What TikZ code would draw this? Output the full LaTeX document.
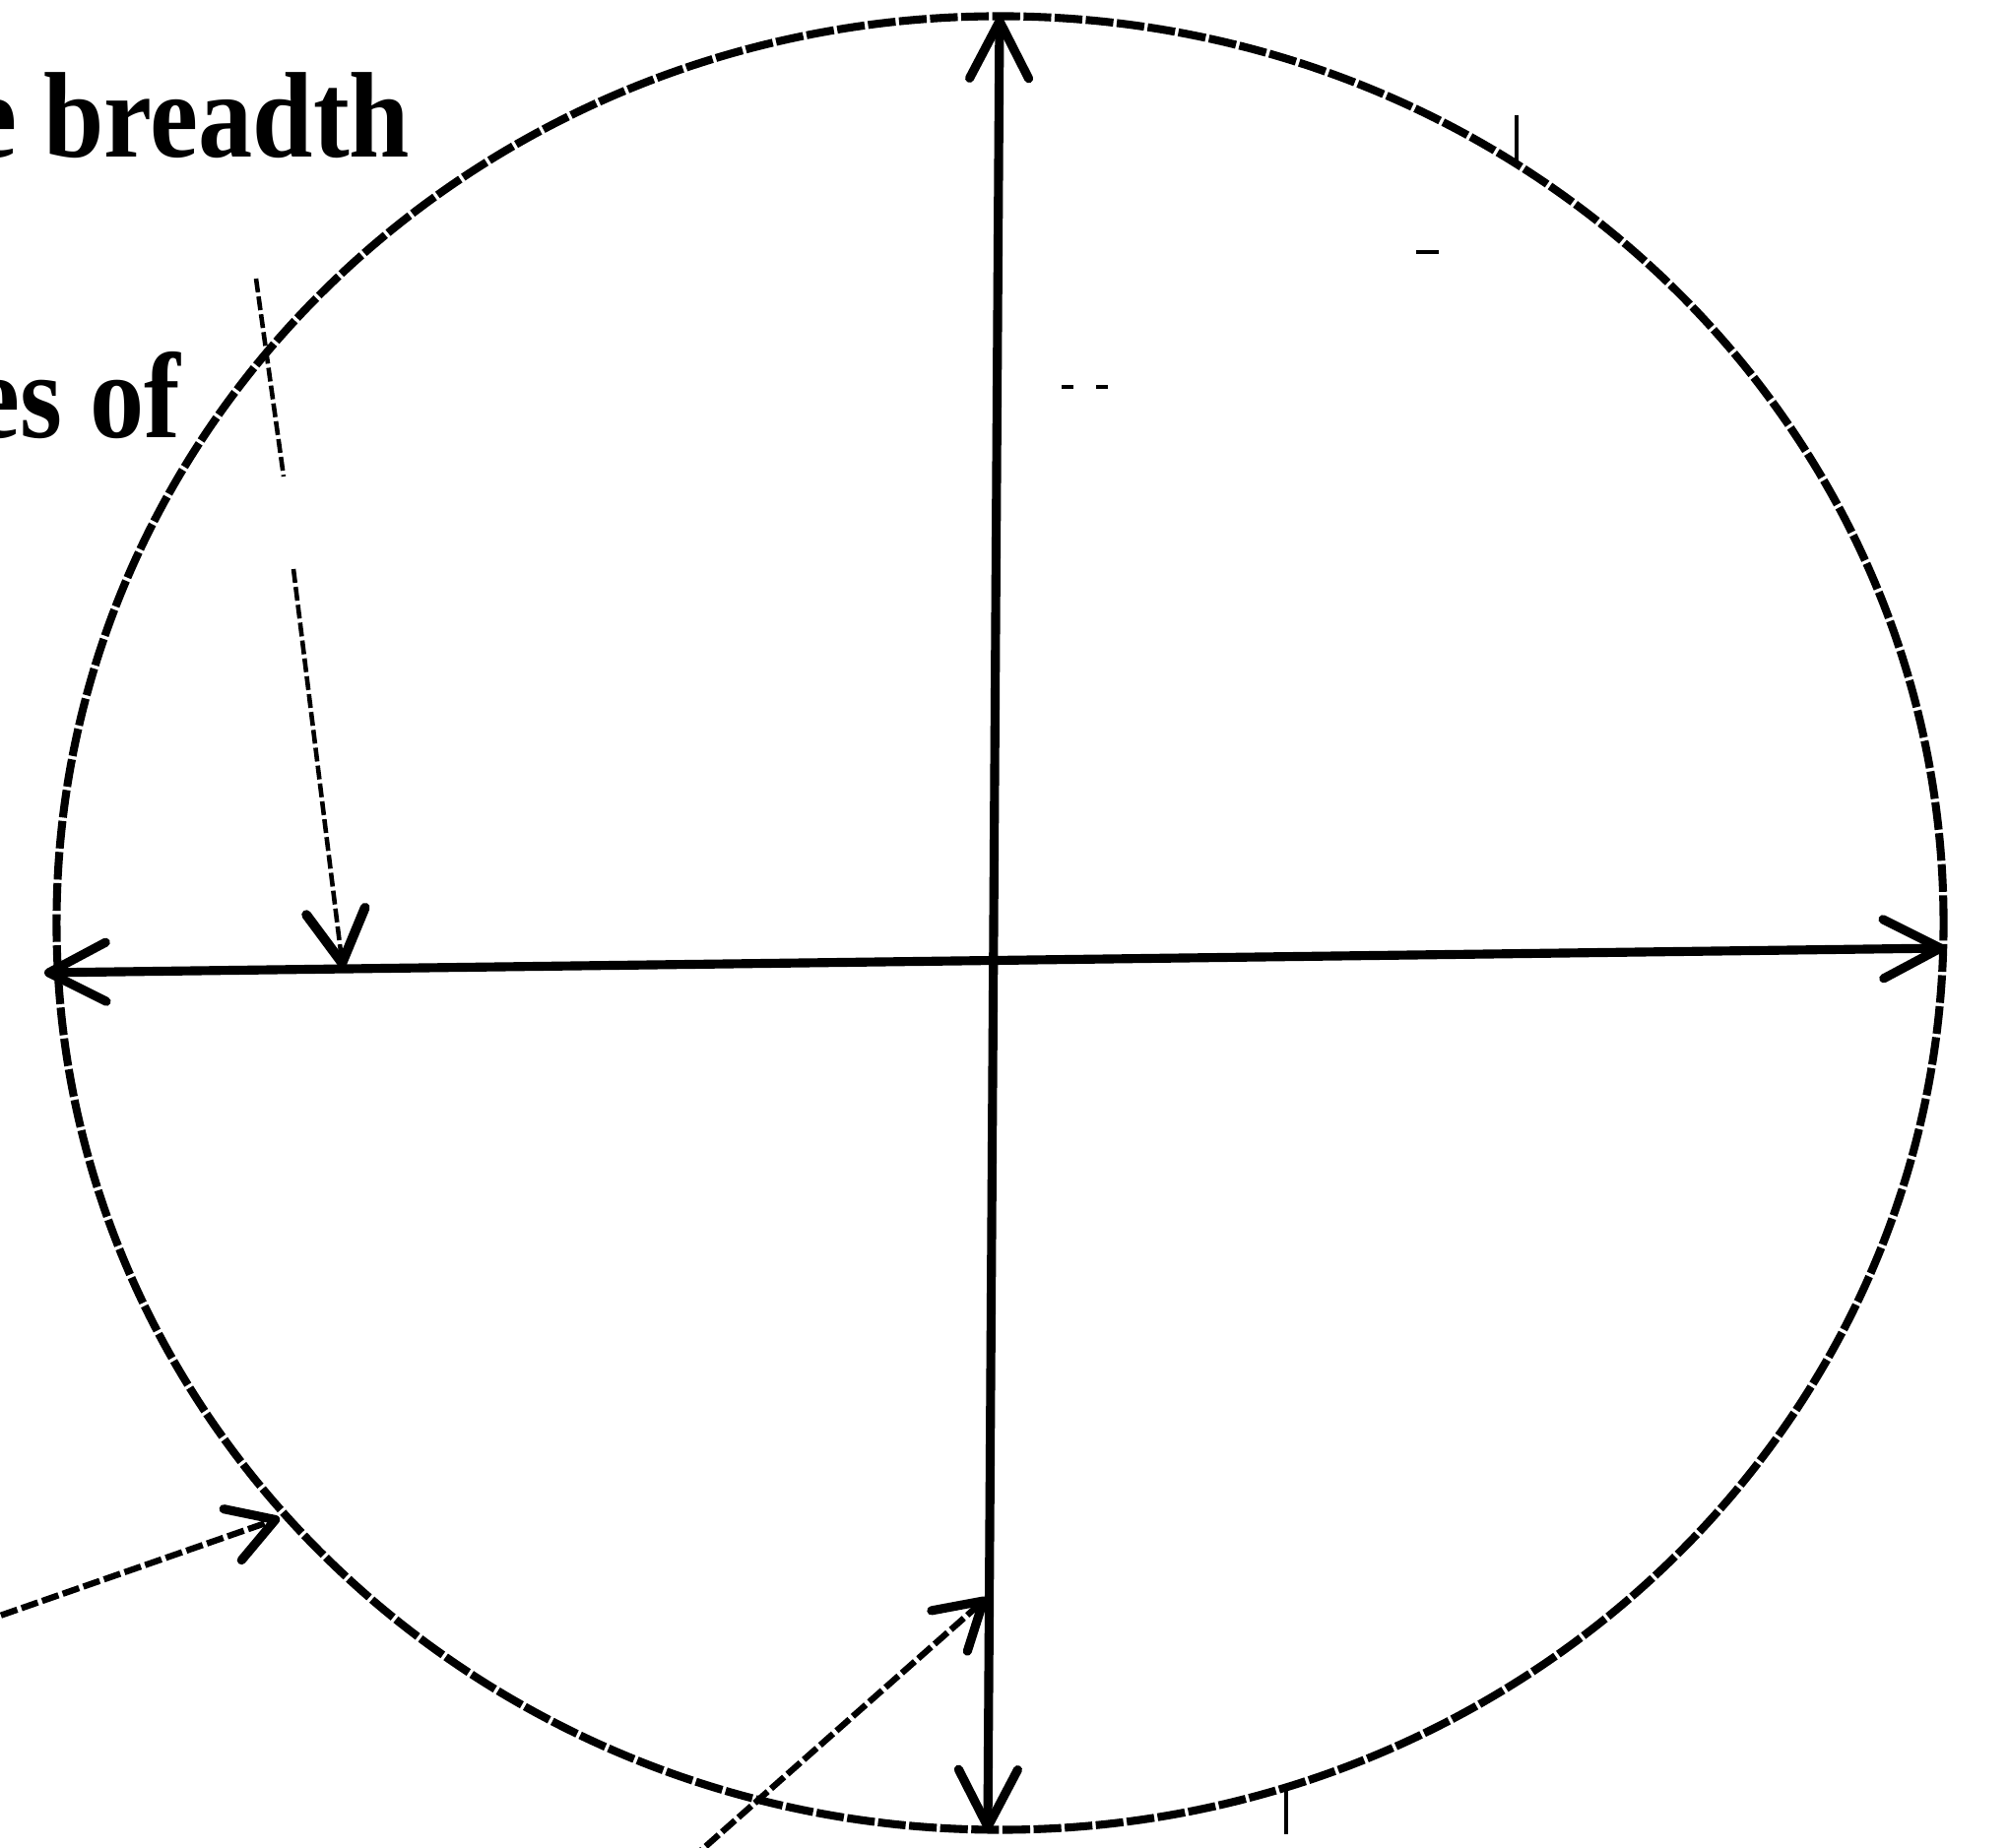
\documentclass[tikz,border=0pt]{standalone}
\usepackage{fontspec}
\setmainfont{Liberation Serif}
\usetikzlibrary{arrows.meta}
\tikzset{
  rim/.style = {line width=2.3pt, dash pattern=on 8pt off 1pt},
  axis/.style = {line width=2.6pt, >={Straight Barb[length=5.8mm,width=6mm,round]}},
  guide/.style = {line width=1.3pt, dash pattern=on 4pt off 1.2pt,
    >={Straight Barb[length=5.3mm,width=6mm,line width=2.8pt,round]}},
  pointer/.style = {line width=1.8pt, dash pattern=on 5pt off 1.3pt,
    >={Straight Barb[length=4.6mm,width=5.5mm,line width=2.6pt,round]}},
  speck/.style = {line width=1.1pt},
  lbl/.style = {inner sep=0pt, font=\bfseries\fontsize{32}{38}\selectfont}
}

\begin{document}
\begin{tikzpicture}[x=0.01cm,y=-0.01cm]
\useasboundingbox (0,0) rectangle (2039,1877);
\clip (0,0) rectangle (2039,1877);

\node[lbl, anchor=base east] (brd) at (417,160) {\scalebox{0.98}[1.1]{e breadth}};
\node[lbl, anchor=base east] (sof) at (184,445) {\scalebox{0.98}[1.1]{es of}};

\coordinate (ctr) at (1015.5,937.5);
\draw[rim] (ctr) ellipse [x radius=9.575cm, y radius=9.205cm];

\coordinate (top) at (1015,17);
\coordinate (bot) at (1003,1860);
\coordinate (lft) at (45,988);
\coordinate (rgt) at (1975,963);
\draw[axis,<->] (top) -- (bot);
\draw[axis,<->] (lft) -- (rgt);

\coordinate (g1) at (260,283);
\coordinate (g2) at (288,484);
\coordinate (g3) at (298,578);
\coordinate (gtip) at (348,983);
\draw[guide] (g1) -- (g2);
\draw[guide,->] (g3) -- (gtip);

\coordinate (pa) at (-20,1648);
\coordinate (patip) at (284,1542);
\coordinate (pb) at (700,1890);
\coordinate (pbtip) at (1002,1623);
\draw[pointer,->] (pa) -- (patip);
\draw[pointer,->] (pb) -- (pbtip);

\foreach \xa/\ya/\xb/\yb in {1540/117/1540/163, 1306/1812/1306/1863,
  1438/256/1461/256, 1078/393/1090/393, 1113/393/1125/393}
  \draw[speck] (\xa,\ya) -- (\xb,\yb);
\end{tikzpicture}
\end{document}
